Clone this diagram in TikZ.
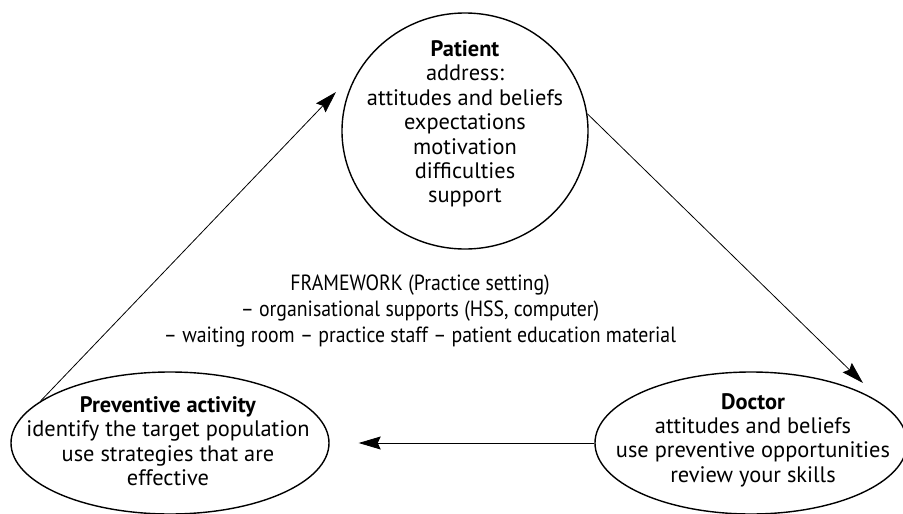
\documentclass[tikz,border=0pt]{standalone}
\usepackage{fontspec}
\setmainfont{PT Sans}
\newfontfamily\framefont[FakeStretch=0.9]{PT Sans}
\usetikzlibrary{shapes.geometric,arrows.meta}
\begin{document}
\begin{tikzpicture}[x=1pt,y=-1pt,
  bub/.style={draw,ellipse,line width=1.4pt,inner sep=0pt},
  txt/.style={align=center,font=\fontsize{22.4}{24.4}\selectfont,inner sep=0pt},
  ftxt/.style={align=center,font=\framefont\fontsize{22}{26.3}\selectfont,inner sep=0pt},
  arr/.style={line width=0.8pt,-{Stealth[length=22pt,width=13pt,inset=3pt]}}]
\useasboundingbox (0,0) rectangle (903,514);
\node[bub,minimum width=246pt,minimum height=236pt] (pat) at (465,131) {};
\node[bub,minimum width=318pt,minimum height=142pt] (pre) at (170,443) {};
\node[bub,minimum width=312pt,minimum height=142pt] (doc) at (751,443) {};
\node[txt] (pattxt) at (465,124) {\textbf{Patient}\\address:\\attitudes and beliefs\\expectations\\motivation\\difficulties\\support};
\node[txt] (pretxt) at (168,441) {\textbf{Preventive activity}\\identify the target population\\use strategies that are\\effective};
\node[txt] (doctxt) at (753,440) {\textbf{Doctor}\\attitudes and beliefs\\use preventive opportunities\\review your skills};
\node[ftxt] (frame) at (420,311) {FRAMEWORK (Practice setting)\\– organisational supports (HSS, computer)\\– waiting room – practice staff – patient education material};
\coordinate (patin) at (336,92);
\coordinate (docin) at (863,383);
\draw[arr] (pre.162.7) -- (patin);
\draw[arr] (pat.8.4) -- (docin);
\draw[arr,shorten >=29pt] (doc.west) -- (pre.east);
\end{tikzpicture}
\end{document}
